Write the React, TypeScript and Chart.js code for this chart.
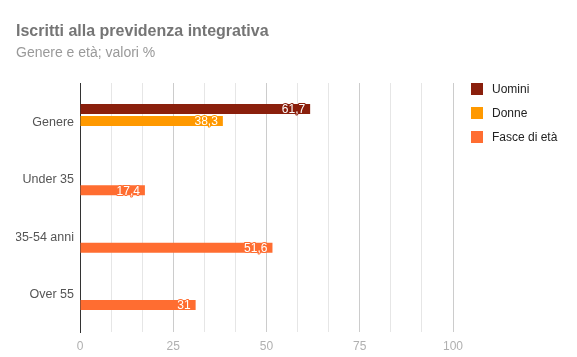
import React, { useEffect, useRef } from 'react';
import { Chart, registerables } from 'chart.js';

Chart.register(...registerables);

const categories = ['Genere', 'Under 35', '35-54 anni', 'Over 55'];
const uomini: (number | null)[] = [61.7, null, null, null];
const donne: (number | null)[] = [38.3, null, null, null];
const fasce: (number | null)[] = [null, 17.4, 51.6, 31];
const seriesNames = ['Uomini', 'Donne', 'Fasce di età'];
const seriesColors = ['#8a1f0c', '#ff9900', '#ff6d31'];
const xMax = 100;
const xMajorStep = 25;
const minorPerMajor = 3;

const FONT = 'Arial, "Liberation Sans", sans-serif';

const valueLabels = {
  id: 'valueLabels',
  afterDatasetsDraw(chart: any) {
    const ctx = chart.ctx;
    ctx.save();
    ctx.font = `12px ${FONT}`;
    ctx.textAlign = 'right';
    ctx.textBaseline = 'middle';
    ctx.lineJoin = 'round';
    chart.data.datasets.forEach((ds: any, di: number) => {
      const meta = chart.getDatasetMeta(di);
      meta.data.forEach((el: any, i: number) => {
        const v = ds.data[i].x;
        const txt = String(v).replace('.', ',');
        ctx.lineWidth = 2;
        ctx.strokeStyle = ds.backgroundColor;
        ctx.strokeText(txt, el.x - 5, el.y + 1);
        ctx.fillStyle = '#ffffff';
        ctx.fillText(txt, el.x - 5, el.y + 1);
      });
    });
    ctx.restore();
  },
};

const sideLegend = {
  id: 'sideLegend',
  afterDraw(chart: any) {
    const ctx = chart.ctx;
    const area = chart.chartArea;
    const x0 = area.right + 18;
    const y0 = area.top + 6;
    ctx.save();
    ctx.font = `12px ${FONT}`;
    ctx.textAlign = 'left';
    ctx.textBaseline = 'middle';
    chart.data.datasets.forEach((ds: any, i: number) => {
      const cy = y0 + i * 24;
      ctx.fillStyle = ds.backgroundColor;
      ctx.fillRect(x0, cy - 6, 12, 12);
      ctx.fillStyle = '#222222';
      ctx.fillText(ds.label, x0 + 21, cy + 0.5);
    });
    ctx.restore();
  },
};

export default function App() {
  const ref = useRef<HTMLCanvasElement>(null);
  useEffect(() => {
    if (!ref.current) return;
    const seriesData = [uomini, donne, fasce];
    const xGrid: number[] = [];
    const minorStep = xMajorStep / minorPerMajor;
    for (let i = 0; i * minorStep <= xMax + 1e-9; i++) xGrid.push((i * xMajorStep) / minorPerMajor);
    const chart = new Chart(ref.current, {
      type: 'bar',
      data: {
        datasets: seriesNames.map((name, k) => ({
          label: name,
          data: seriesData[k]
            .map((v, i) => ({ x: v, y: i }))
            .filter((p) => p.x !== null) as any,
          backgroundColor: seriesColors[k],
          categoryPercentage: 0.628,
          barPercentage: 0.833,
        })),
      },
      options: {
        indexAxis: 'y',
        animation: false,
        responsive: false,
        devicePixelRatio: 1,
        layout: { padding: { left: 16, right: 124, top: 0, bottom: 0 } },
        plugins: {
          legend: { display: false },
          tooltip: { enabled: false },
          title: {
            display: true,
            text: 'Iscritti alla previdenza integrativa',
            align: 'start',
            color: '#757575',
            font: { family: FONT, size: 16, weight: 'bold' },
            padding: { top: 22, bottom: 4 },
          },
          subtitle: {
            display: true,
            text: 'Genere e età; valori %',
            align: 'start',
            color: '#999999',
            font: { family: FONT, size: 14 },
            padding: { top: 0, bottom: 21 },
          },
        },
        scales: {
          x: {
            type: 'linear',
            min: 0,
            max: xMax,
            afterBuildTicks: (s: any) => {
              s.ticks = xGrid.map((v) => ({ value: v }));
            },
            afterFit: (s: any) => {
              s.height = 25;
            },
            ticks: {
              autoSkip: false,
              maxRotation: 0,
              padding: 7,
              color: '#b0b0b0',
              font: { family: FONT, size: 12 },
              callback: (v: any, i: number) => (i % minorPerMajor === 0 ? String(v) : ''),
            },
            grid: {
              drawTicks: false,
              color: (c: any) =>
                c.index === 0 ? '#333333' : c.index % minorPerMajor === 0 ? '#cccccc' : '#e6e6e6',
            },
            border: { display: false },
          },
          y: {
            type: 'linear',
            reverse: true,
            offset: false,
            bounds: 'data',
            min: -0.663,
            max: 3.68,
            afterBuildTicks: (s: any) => {
              s.ticks = categories.map((_, i) => ({ value: i }));
            },
            afterFit: (s: any) => {
              s.width = 64;
            },
            ticks: {
              autoSkip: false,
              padding: 6,
              labelOffset: 1.5,
              color: '#555555',
              font: { family: FONT, size: 12.5 },
              callback: (v: any) => categories[v] ?? '',
            },
            grid: { display: false, drawTicks: false, offset: false },
            border: { display: true, color: '#333333', width: 1 },
          },
        },
      } as any,
      plugins: [valueLabels, sideLegend],
    });
    return () => chart.destroy();
  }, []);
  return (
    <div style={{ position: 'fixed', left: 0, top: 0, width: 577, height: 357, background: '#fff' }}>
      <canvas ref={ref} width={577} height={357} />
    </div>
  );
}
